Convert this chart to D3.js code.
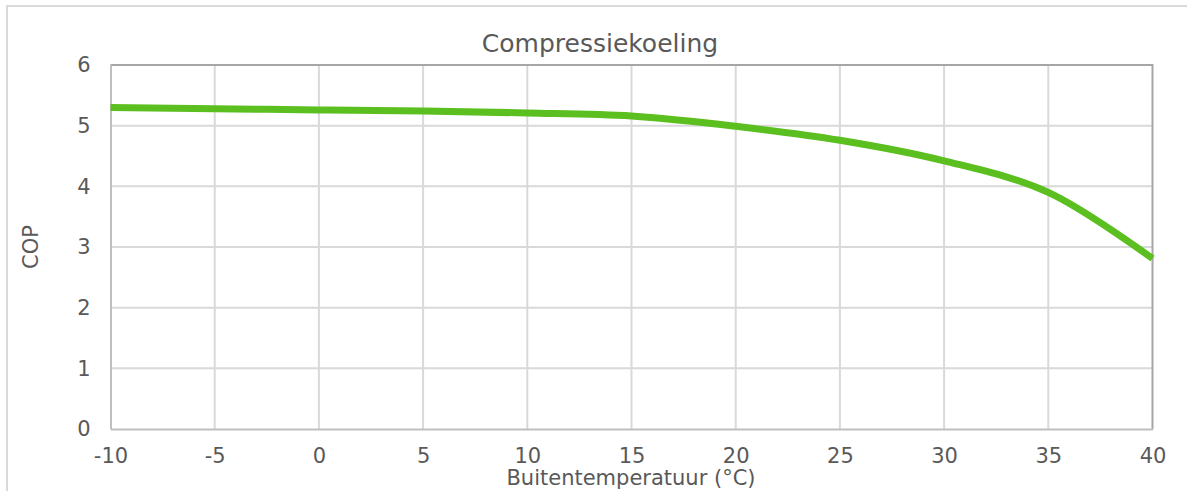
<!DOCTYPE html>
<html><head><meta charset="utf-8">
<script src="https://cdn.jsdelivr.net/npm/d3@7"></script>
<style>html,body{margin:0;padding:0;background:#fff;}svg{display:block;}</style>
</head><body>
<svg id="c" width="1187" height="491"></svg>
<script>
const temperatures = [-10, -5, 0, 5, 10, 15, 20, 25, 30, 35, 40];
const copValues = [5.30, 5.28, 5.26, 5.24, 5.21, 5.16, 4.99, 4.76, 4.42, 3.90, 2.81];
const xTicks = [-10, -5, 0, 5, 10, 15, 20, 25, 30, 35, 40];
const yTicks = [0, 1, 2, 3, 4, 5, 6];
const chartTitle = "Compressiekoeling";
const xTitle = "Buitentemperatuur (°C)";
const yTitle = "COP";

const svg = d3.select("#c");
const font = "'DejaVu Sans', Verdana, sans-serif";
const textColor = "#595959";
const m = {left: 110.5, right: 1152.5, top: 65, bottom: 429};

svg.append("rect").attr("x", 7).attr("y", 6).attr("width", 1200).attr("height", 520)
  .attr("fill", "#fff").attr("stroke", "#d9d9d9").attr("stroke-width", 2);

const x = d3.scaleLinear().domain([-10, 40]).range([m.left, m.right]);
const y = d3.scaleLinear().domain([0, 6]).range([m.bottom, m.top]);

// gridlines
const g = svg.append("g");
g.selectAll(".vg").data(xTicks.slice(1, -1)).join("line")
  .attr("x1", d => x(d)).attr("x2", d => x(d)).attr("y1", m.top).attr("y2", m.bottom)
  .attr("stroke", "#d9d9d9").attr("stroke-width", 2);
g.selectAll(".hg").data(yTicks.slice(1, -1)).join("line")
  .attr("x1", m.left).attr("x2", m.right).attr("y1", d => y(d)).attr("y2", d => y(d))
  .attr("stroke", "#d9d9d9").attr("stroke-width", 2);

// frame
svg.append("line").attr("x1", m.left).attr("x2", m.right).attr("y1", m.top).attr("y2", m.top)
  .attr("stroke", "#a6a6a6").attr("stroke-width", 2);
svg.append("line").attr("x1", m.right).attr("x2", m.right).attr("y1", m.top - 1).attr("y2", m.bottom)
  .attr("stroke", "#a6a6a6").attr("stroke-width", 2);

// axes
const xAxis = svg.append("g").attr("transform", `translate(0,${m.bottom})`)
  .call(d3.axisBottom(x).tickValues(xTicks).tickSize(0).tickPadding(25).tickFormat(d => String(d)));
xAxis.select(".domain").attr("stroke", "#bfbfbf").attr("stroke-width", 2);
xAxis.selectAll("text").attr("font-family", font).attr("font-size", 21).attr("fill", textColor)
  .attr("dy", "0.45em");

const yAxis = svg.append("g").attr("transform", `translate(${m.left},0)`)
  .call(d3.axisLeft(y).tickValues(yTicks).tickSize(0).tickPadding(20).tickFormat(d => String(d)));
yAxis.select(".domain").attr("stroke", "#bfbfbf").attr("stroke-width", 2);
yAxis.selectAll("text").attr("font-family", font).attr("font-size", 21).attr("fill", textColor);

// line
const line = d3.line().x((d, i) => x(temperatures[i])).y(d => y(d)).curve(d3.curveCatmullRom.alpha(0.5));
svg.append("path").datum(copValues).attr("d", line)
  .attr("fill", "none").attr("stroke", "#5cbf20").attr("stroke-width", 7)
  .attr("stroke-linejoin", "round");

// titles
svg.append("text").attr("x", 600).attr("y", 52).attr("text-anchor", "middle")
  .attr("font-family", font).attr("font-size", 25).attr("fill", textColor).text(chartTitle);
svg.append("text").attr("x", 631).attr("y", 485).attr("text-anchor", "middle")
  .attr("font-family", font).attr("font-size", 21).attr("fill", textColor).text(xTitle);
svg.append("text").attr("transform", `translate(38,${(m.top + m.bottom) / 2}) rotate(-90)`)
  .attr("text-anchor", "middle")
  .attr("font-family", font).attr("font-size", 21).attr("fill", textColor).text(yTitle);
</script>
</body></html>
